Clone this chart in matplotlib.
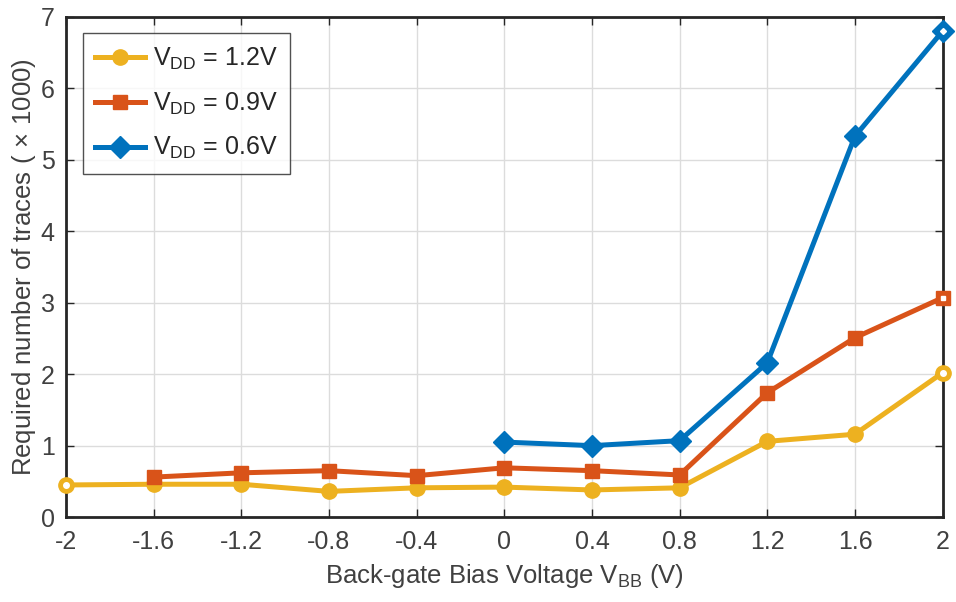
import matplotlib
matplotlib.use("Agg")
import matplotlib.pyplot as plt
import numpy as np

plt.rcParams['font.family'] = ['Liberation Sans', 'DejaVu Sans']
plt.rcParams['mathtext.fontset'] = 'custom'
plt.rcParams['mathtext.rm'] = 'Liberation Sans'
plt.rcParams['mathtext.it'] = 'Liberation Sans:italic'

# data (number of traces in thousands)
vbb = [-2, -1.6, -1.2, -0.8, -0.4, 0, 0.4, 0.8, 1.2, 1.6, 2]
vbb_06 = [0, 0.4, 0.8, 1.2, 1.6, 2]
traces_12 = [0.45, 0.46, 0.46, 0.36, 0.41, 0.42, 0.38, 0.41, 1.06, 1.16, 2.02]
traces_09 = [0.56, 0.62, 0.65, 0.58, 0.69, 0.65, 0.59, 1.74, 2.51, 3.07]
traces_06 = [1.05, 1.00, 1.07, 2.16, 5.33, 6.80]

xticks = [-2, -1.6, -1.2, -0.8, -0.4, 0, 0.4, 0.8, 1.2, 1.6, 2]
xticklabels = ['-2', '-1.6', '-1.2', '-0.8', '-0.4', '0', '0.4', '0.8', '1.2', '1.6', '2']

c_yel = '#EDB120'
c_org = '#D95319'
c_blu = '#0072BD'

fig = plt.figure(figsize=(9.56, 6.02), dpi=100)
ax = fig.add_axes([0.069, 0.141, 0.917, 0.831])

ax.plot(vbb, traces_12, color=c_yel, lw=3.6, marker='o', ms=11, label='V$_{\\mathrm{DD}}$ = 1.2V', clip_on=False, zorder=3)
ax.plot(vbb[1:], traces_09, color=c_org, lw=3.6, marker='s', ms=10, label='V$_{\\mathrm{DD}}$ = 0.9V', clip_on=False, zorder=3)
ax.plot(vbb_06, traces_06, color=c_blu, lw=3.6, marker='D', ms=11, label='V$_{\\mathrm{DD}}$ = 0.6V', clip_on=False, zorder=3)

# hollow look of markers sitting on the axes edge
ax.plot([vbb[0], vbb[-1]], [traces_12[0], traces_12[-1]], ls='none', marker='o', ms=4, color='white', clip_on=False, zorder=4)
ax.plot([vbb[-1]], [traces_09[-1]], ls='none', marker='s', ms=3.5, color='white', clip_on=False, zorder=4)
ax.plot([vbb_06[-1]], [traces_06[-1]], ls='none', marker='D', ms=3, color='white', clip_on=False, zorder=4)

ax.set_xlim(-2, 2)
ax.set_ylim(0, 7)
ax.set_xticks(xticks)
ax.set_xticklabels(xticklabels)
ax.set_yticks(range(0, 8))

ax.set_xlabel('Back-gate Bias Voltage V$_{\\mathrm{BB}}$ (V)', fontsize=18.5, color='#404040', labelpad=6)
ax.set_ylabel('Required number of traces ($\\,\\times\\,$1000)', fontsize=18.5, color='#404040', labelpad=2)

ax.tick_params(axis='both', which='major', labelsize=18, labelcolor='#404040', color='#262626',
               direction='in', length=6, width=1, top=True, right=True, pad=9)
ax.tick_params(axis='y', pad=8)
for s in ax.spines.values():
    s.set_linewidth(2)
    s.set_color('#262626')

ax.grid(color='#dcdcdc', lw=1)
ax.set_axisbelow(True)

leg = ax.legend(loc='upper left', bbox_to_anchor=(0.019, 0.968), fontsize=18, frameon=True, fancybox=False,
                edgecolor='#262626', handlelength=2.0, handletextpad=0.3, borderpad=0.5,
                labelspacing=0.75, borderaxespad=0)
leg.get_frame().set_linewidth(1)
for t in leg.get_texts():
    t.set_color('#262626')

fig.savefig('out.png', dpi=100)
